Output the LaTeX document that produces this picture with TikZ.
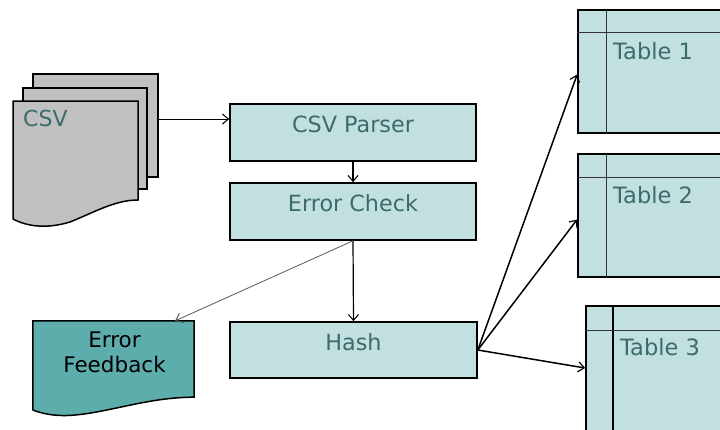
\documentclass[tikz,border=0pt]{standalone}
\usepackage{fontspec}
\setmainfont{DejaVu Sans}
\usetikzlibrary{arrows.meta}
\definecolor{boxfill}{HTML}{C3E0E0}
\definecolor{boxtext}{HTML}{3D6B6B}
\definecolor{fbfill}{HTML}{5EADAD}
\definecolor{sheetfill}{HTML}{C0C0C0}
\definecolor{gridline}{HTML}{333333}
\tikzset{
  procbox/.style={draw=black, line width=1.6pt, fill=boxfill, inner sep=0pt,
    text=boxtext, font=\fontsize{22.3}{26}\selectfont,
    text height=16pt, text depth=16pt},
  tablebox/.style={draw=black, line width=1.7pt, fill=boxfill, inner sep=0pt},
  tablelabel/.style={anchor=base west, inner sep=0pt, text=boxtext,
    font=\fontsize{22.5}{26}\selectfont},
  sheet/.style={draw=black, line width=1.5pt, fill=sheetfill, inner sep=0pt},
  gridrule/.style={draw=gridline, line width=0.8pt},
  flow/.style={-{Straight Barb[length=6pt,width=10pt,line width=1pt]}, line width=1pt},
  fanout/.style={-{Straight Barb[length=6pt,width=10pt,line width=1.2pt]}, line width=1.5pt},
}
\begin{document}
\begin{tikzpicture}[x=1pt, y=-1pt]
\useasboundingbox (0,0) rectangle (720,429);

% ---- stack of CSV sheets ----
\node[sheet, minimum width=125pt, minimum height=103pt] (csvback) at (95.5,125.5) {};
\node[sheet, minimum width=124pt, minimum height=101pt] (csvmid) at (85,138.5) {};
\draw[sheet] (13,101) -- (138,101) -- (138,200)
  .. controls (115,200) and (95,212) .. (70,222)
  .. controls (50,228) and (30,228) .. (13,219) -- cycle;
\node[anchor=base west, inner sep=0pt, text=boxtext, font=\fontsize{22}{26}\selectfont] (csv) at (23,126) {CSV};

% ---- processing boxes ----
\node[procbox, minimum width=246pt, minimum height=57pt] (parser) at (353,132.5) {CSV Parser};
\node[procbox, minimum width=246pt, minimum height=57pt] (echeck) at (353,211.5) {Error Check};
\node[procbox, minimum width=247pt, minimum height=56pt] (hash) at (353.5,350) {Hash};

% ---- error feedback document ----
\node[minimum width=161pt, minimum height=76pt, inner sep=0pt] (fb) at (113.5,359) {};
\draw[line width=1.5pt, fill=fbfill] (fb.north west) -- (fb.north east) -- (fb.south east)
  .. controls (150,397) and (110,412) .. (75,415)
  .. controls (55,417) and (40,413) .. (33,410) -- cycle;
\node[align=center, inner sep=0pt, font=\fontsize{21.5}{25}\selectfont] (fbtext) at (114.5,352.5) {Error\\Feedback};

% ---- tables ----
\node[tablebox, minimum width=192pt, minimum height=123pt] (table1) at (674,71.5) {};
\draw[gridrule] ([xshift=29pt]table1.north west) -- ([xshift=29pt]table1.south west);
\draw[gridrule] ([yshift=-23pt]table1.north west) -- ([yshift=-23pt]table1.north east);
\node[tablelabel] (t1label) at (613,59) {Table 1};

\node[tablebox, minimum width=192pt, minimum height=123pt] (table2) at (674,215.5) {};
\draw[gridrule] ([xshift=29pt]table2.north west) -- ([xshift=29pt]table2.south west);
\draw[gridrule] ([yshift=-24pt]table2.north west) -- ([yshift=-24pt]table2.north east);
\node[tablelabel] (t2label) at (613,203) {Table 2};

\node[tablebox, minimum width=192pt, minimum height=174pt] (table3) at (682,393) {};
\draw[line width=1.6pt] ([xshift=28pt]table3.north west) -- ([xshift=28pt]table3.south west);
\draw[gridrule] ([yshift=-25pt]table3.north west) -- ([yshift=-25pt]table3.north east);
\node[tablelabel] (t3label) at (620,355) {Table 3};

% ---- connectors ----
\draw[flow] ([yshift=6.5pt]csvback.east) -- ([yshift=6.5pt]csvback.east -| parser.west);
\draw[flow, line width=1.2pt] (parser.south) -- (echeck.north);
\draw[flow, line width=1.2pt] (echeck.south) -- (hash.north);
\draw[flow, draw=black!65, line width=0.8pt] (echeck.south) -- ([xshift=-19pt]fb.north east);
\draw[fanout] (hash.east) -- ([yshift=-3pt]table1.west);
\draw[fanout] (hash.east) -- ([yshift=-4pt]table2.west);
\draw[fanout] (hash.east) -- ([yshift=25pt]table3.west);
\end{tikzpicture}
\end{document}
